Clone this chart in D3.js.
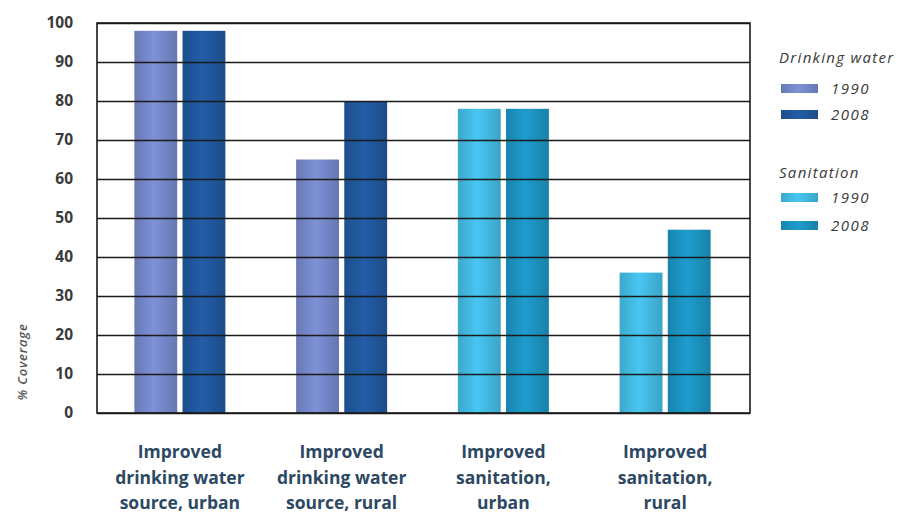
<!DOCTYPE html>
<html><head><meta charset="utf-8">
<script src="https://cdn.jsdelivr.net/npm/d3@7"></script>
<style>body{margin:0;background:#fff;}svg{display:block;}</style>
</head><body><svg id="c" width="904" height="523"></svg>
<script>
const categories = [
  ["Improved","drinking water","source, urban"],
  ["Improved","drinking water","source, rural"],
  ["Improved","sanitation,","urban"],
  ["Improved","sanitation,","rural"]
];
const values1990 = [98, 65, 78, 36];
const values2008 = [98, 80, 78, 47];
const groupType = ["water","water","san","san"];
const yTicks = [0,10,20,30,40,50,60,70,80,90,100];
const legendGroups = [
  {title:"Drinking water", items:[["1990","w90"],["2008","w08"]]},
  {title:"Sanitation", items:[["1990","s90"],["2008","s08"]]}
];
const colors = {w90:"#6e80be", w08:"#1f5293", s90:"#3fb0d6", s08:"#1a8bb6"};

const svg = d3.select("#c");
const L=97, R=750, T=23, B=413;
const y = d3.scaleLinear().domain([0,100]).range([B,T]);
const x = d3.scaleBand().domain(d3.range(4)).range([L+2,R-4]).paddingInner(0).paddingOuter(0);
const inner = d3.scaleBand().domain(["a","b"]).range([0,91]).paddingInner(0.11);

const defs = svg.append("defs");
Object.entries(colors).forEach(([k,c])=>{
  const g = defs.append("linearGradient").attr("id","g"+k).attr("x1","0").attr("x2","1").attr("y1","0").attr("y2","0");
  const lc = d3.color(c).brighter(0.35);
  g.append("stop").attr("offset","0%").attr("stop-color",d3.color(c).darker(0.15));
  g.append("stop").attr("offset","45%").attr("stop-color",lc);
  g.append("stop").attr("offset","100%").attr("stop-color",d3.color(c).darker(0.2));
});

// bars
const gx = d => x(d) + (x.bandwidth()-91)/2;
categories.forEach((cat,i)=>{
  const k1 = groupType[i]==="water"?"w90":"s90";
  const k2 = groupType[i]==="water"?"w08":"s08";
  [[values1990[i],k1,"a"],[values2008[i],k2,"b"]].forEach(([v,k,s])=>{
    svg.append("rect").attr("x",gx(i)+inner(s)).attr("y",y(v))
      .attr("width",inner.bandwidth()).attr("height",y(0)-y(v))
      .attr("fill","url(#g"+k+")");
  });
});

// gridlines on top
const yAxis = d3.axisLeft(y).tickValues(yTicks).tickSize(-(R-L)).tickPadding(24);
const ga = svg.append("g").attr("transform",`translate(${L},0)`).call(yAxis);
ga.select(".domain").remove();
ga.selectAll(".tick line").attr("stroke","#1a1a1a").attr("stroke-width",1.6);
ga.selectAll(".tick text").attr("font-family","'Open Sans', sans-serif").attr("font-weight","bold")
  .attr("font-size",15.5).attr("fill","#3a3a3a");
svg.append("rect").attr("x",L).attr("y",T).attr("width",R-L).attr("height",B-T)
  .attr("fill","none").attr("stroke","#1a1a1a").attr("stroke-width",1.6);

// y title
svg.append("text").attr("transform","translate(27,362) rotate(-90)").attr("text-anchor","middle")
  .attr("font-family","'Open Sans', sans-serif").attr("font-style","italic").attr("font-weight",600)
  .attr("font-size",13).attr("letter-spacing",0.8)
  .attr("fill","#555").text("% Coverage");

// category labels
categories.forEach((cat,i)=>{
  const t = svg.append("text").attr("text-anchor","middle")
    .attr("font-family","'Open Sans', sans-serif").attr("font-weight","bold").attr("font-size",17.5)
    .attr("fill","#2d4862");
  cat.forEach((line,j)=>{
    t.append("tspan").attr("x",x(i)+x.bandwidth()/2).attr("y",458+j*25.5).text(line);
  });
});

// legend
const legY = [[63,[84,110]],[178,[193,221]]];
legendGroups.forEach((g,gi)=>{
  const y0 = legY[gi][0];
  svg.append("text").attr("x",779).attr("y",y0).attr("font-family","'Open Sans', sans-serif")
    .attr("font-style","italic").attr("font-size",15).attr("letter-spacing",1.3)
    .attr("fill","#3a3a3a").text(g.title);
  g.items.forEach(([lab,k],j)=>{
    const yy = legY[gi][1][j];
    svg.append("rect").attr("x",781).attr("y",yy).attr("width",37).attr("height",9).attr("fill","url(#g"+k+")");
    svg.append("text").attr("x",831).attr("y",yy+10).attr("font-family","'Open Sans', sans-serif")
      .attr("font-style","italic").attr("font-size",15).attr("letter-spacing",1.5)
      .attr("fill","#3a3a3a").text(lab);
  });
});
</script></body></html>
